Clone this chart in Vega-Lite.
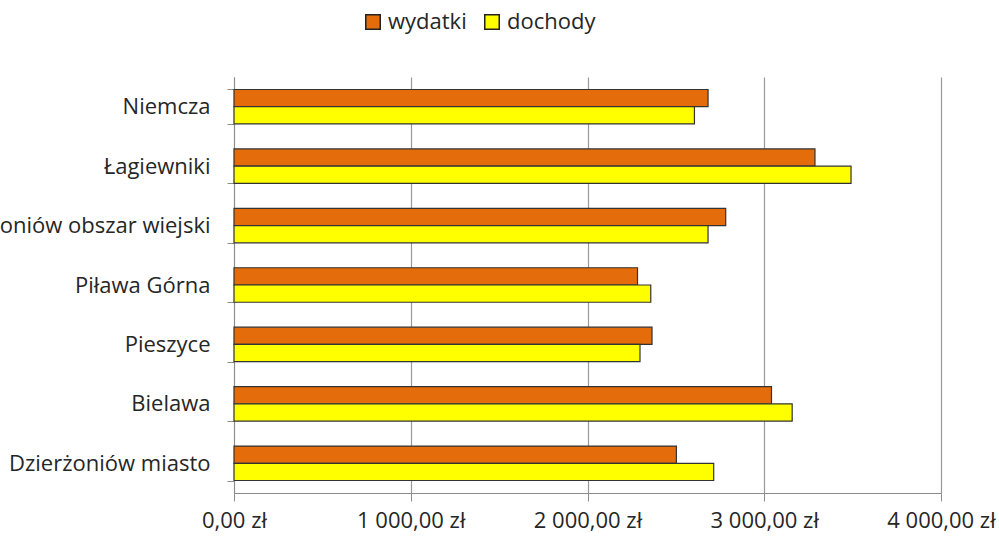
{
  "$schema": "https://vega.github.io/schema/vega-lite/v6.json",
  "autosize": {"type": "none"},
  "width": 707,
  "height": 416,
  "padding": {"left": 234, "top": 77, "right": 58, "bottom": 48},
  "background": "white",
  "config": {
    "view": {"stroke": null},
    "locale": {"number": {"decimal": ",", "thousands": "\u00a0", "grouping": [3], "currency": ["", " zł"]}},
    "font": "Open Sans"
  },
  "data": {
    "values": [
      {"gmina": "Niemcza", "typ": "wydatki", "wartosc": 2682},
      {"gmina": "Niemcza", "typ": "dochody", "wartosc": 2605},
      {"gmina": "Łagiewniki", "typ": "wydatki", "wartosc": 3287},
      {"gmina": "Łagiewniki", "typ": "dochody", "wartosc": 3491},
      {"gmina": "Dzierżoniów obszar wiejski", "typ": "wydatki", "wartosc": 2782},
      {"gmina": "Dzierżoniów obszar wiejski", "typ": "dochody", "wartosc": 2682},
      {"gmina": "Piława Górna", "typ": "wydatki", "wartosc": 2283},
      {"gmina": "Piława Górna", "typ": "dochody", "wartosc": 2358},
      {"gmina": "Pieszyce", "typ": "wydatki", "wartosc": 2365},
      {"gmina": "Pieszyce", "typ": "dochody", "wartosc": 2297},
      {"gmina": "Bielawa", "typ": "wydatki", "wartosc": 3041},
      {"gmina": "Bielawa", "typ": "dochody", "wartosc": 3158},
      {"gmina": "Dzierżoniów miasto", "typ": "wydatki", "wartosc": 2503},
      {"gmina": "Dzierżoniów miasto", "typ": "dochody", "wartosc": 2714}
    ]
  },
  "mark": {"type": "bar", "stroke": "#333333", "strokeWidth": 1.2},
  "encoding": {
    "y": {
      "field": "gmina",
      "type": "nominal",
      "sort": null,
      "title": null,
      "scale": {"paddingInner": 0.42, "paddingOuter": 0.21},
      "axis": {
        "tickBand": "extent",
        "domainColor": "#8c8c8c",
        "tickColor": "#8c8c8c",
        "tickSize": 7,
        "labelFont": "Open Sans",
        "labelFontSize": 22,
        "labelColor": "#262626",
        "labelPadding": 17,
        "labelLimit": 600,
        "grid": false
      }
    },
    "yOffset": {"field": "typ", "type": "nominal", "sort": ["wydatki", "dochody"]},
    "x": {
      "field": "wartosc",
      "type": "quantitative",
      "title": null,
      "scale": {"domain": [0, 4000], "nice": false},
      "axis": {
        "values": [0, 1000, 2000, 3000, 4000],
        "format": "$,.2f",
        "domainColor": "#8c8c8c",
        "tickColor": "#8c8c8c",
        "tickSize": 8,
        "gridColor": "#999999",
        "gridWidth": 1.2,
        "labelFont": "Open Sans",
        "labelFontSize": 22,
        "labelColor": "#262626",
        "labelPadding": 9,
        "labelFlush": false,
        "labelOverlap": false
      }
    },
    "color": {
      "field": "typ",
      "type": "nominal",
      "sort": ["wydatki", "dochody"],
      "scale": {"domain": ["wydatki", "dochody"], "range": ["#E46C0A", "#FFFF00"]},
      "legend": {
        "title": null,
        "orient": "none",
        "direction": "horizontal",
        "legendX": 128,
        "legendY": -66,
        "symbolType": "square",
        "symbolSize": 210,
        "symbolStrokeColor": "#222222",
        "symbolStrokeWidth": 1.5,
        "labelFont": "Open Sans",
        "labelFontSize": 22,
        "labelColor": "#262626",
        "columnPadding": 14,
        "labelOffset": 4
      }
    }
  }
}
